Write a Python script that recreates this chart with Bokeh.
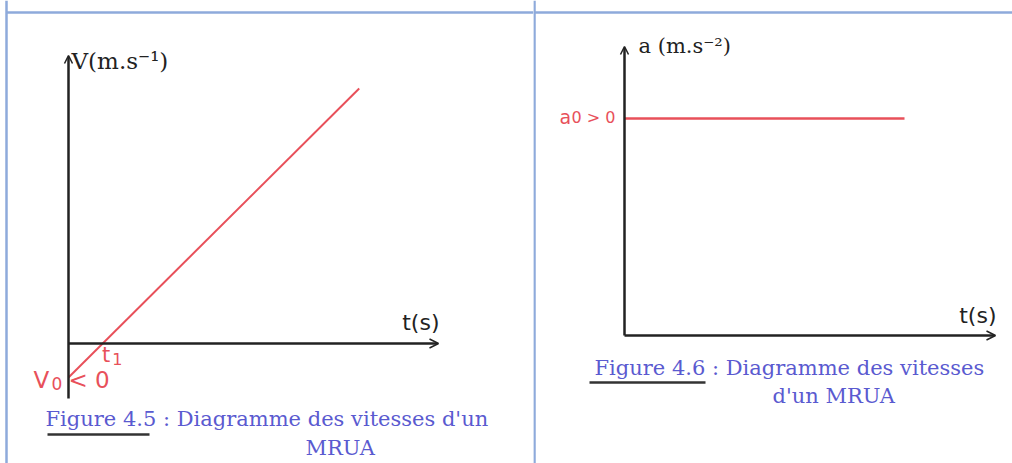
from bokeh.plotting import figure
from bokeh.models import Range1d, Arrow, OpenHead, Label, Span
from bokeh.layouts import row
from bokeh.embed import file_html
from bokeh.resources import INLINE

# ---------------- data ----------------
# Figure 4.5 : V(t) of a MRUA with V0 < 0 (line crosses t axis at t1)
vel_t = [0.0, 8.5]
vel_v = [-1.0, 7.5]
V0 = -1.0
t1 = 1.0
# Figure 4.6 : a(t) constant a0 > 0
acc_t = [0.0, 10.0]
acc_a = [1.0, 1.0]

caption_left = ["Figure 4.5 : Diagramme des vitesses d'un", "MRUA"]
caption_right = ["Figure 4.6 : Diagramme des vitesses", "d'un MRUA"]

RED = "#e8505a"
AXIS = "#222222"
BLUE = "#5a5ad0"
BORDER = "#8eaadb"
SERIF = "DejaVu Serif"
SANS = "DejaVu Sans"

# scale helpers (pixel-of-page -> data units), used only for layout of annotations
L_X0, L_SX, L_Y0, L_SY = 68.0, 34.2, 343.0, 34.0
R_X0, R_SX, R_Y0, R_SY = 624.0, 28.0, 335.0, 217.0


def lx(px): return (px - L_X0) / L_SX
def ly(py): return (L_Y0 - py) / L_SY
def rx(px): return (px - R_X0) / R_SX
def ry(py): return (R_Y0 - py) / R_SY


def base(width, x_range, y_range):
    p = figure(width=width, height=463, x_range=x_range, y_range=y_range,
               toolbar_location=None, output_backend="svg",
               x_axis_location=None, y_axis_location=None, min_border=0)
    p.outline_line_color = None
    p.grid.visible = False
    p.background_fill_color = "white"
    p.border_fill_color = "white"
    return p


def lab(p, x, y, text, size, color, font, align="left", baseline="middle"):
    p.add_layout(Label(x=x, y=y, text=text, text_font_size=size, text_color=color,
                       text_font=font, text_align=align, text_baseline=baseline))


# ---------------- left figure ----------------
pl = base(533, Range1d(lx(0), lx(533)), Range1d(ly(463), ly(0)))
pl.line([lx(6), lx(533)], [ly(12), ly(12)], line_color=BORDER, line_width=2.5)
pl.add_layout(Span(location=lx(6), dimension="height", line_color=BORDER, line_width=2.5))

pl.add_layout(Arrow(end=OpenHead(size=8, line_width=1.5, line_color=AXIS),
                    x_start=0, y_start=ly(398), x_end=0, y_end=ly(55),
                    line_width=2.5, line_color=AXIS))
pl.add_layout(Arrow(end=OpenHead(size=9, line_width=1.5, line_color=AXIS),
                    x_start=0, y_start=0, x_end=lx(438), y_end=0,
                    line_width=2.5, line_color=AXIS))
pl.line(vel_t, vel_v, line_color=RED, line_width=2)

lab(pl, lx(71), ly(60), "V(m.s\u207b\u00b9)", "23px", AXIS, SERIF)
lab(pl, lx(439), ly(322), "t(s)", "22px", AXIS, SANS, align="right")
lab(pl, t1 - 0.02, ly(354), "t", "21px", RED, SANS)
lab(pl, t1 + 0.28, ly(358), "1", "16px", RED, SANS)
lab(pl, lx(33), V0 - 0.08, "V", "23px", RED, SANS)
lab(pl, lx(51), V0 - 0.17, "0", "17px", RED, SANS)
lab(pl, lx(68), V0 - 0.08, "< 0", "23px", RED, SANS)

lab(pl, lx(45), ly(418), caption_left[0], "21px", BLUE, SERIF)
lab(pl, lx(305), ly(447), caption_left[1], "21px", BLUE, SERIF)
pl.line([lx(47), lx(149)], [ly(434), ly(434)], line_color="#333333", line_width=2.5)

# ---------------- right figure ----------------
pr = base(479, Range1d(rx(533), rx(1012)), Range1d(ry(463), ry(0)))
pr.add_layout(Span(location=ry(12), dimension="width", line_color=BORDER, line_width=2.5))
pr.add_layout(Span(location=rx(534), dimension="height", line_color=BORDER, line_width=2.5))

pr.add_layout(Arrow(end=OpenHead(size=8, line_width=1.5, line_color=AXIS),
                    x_start=0, y_start=0, x_end=0, y_end=ry(46),
                    line_width=2.5, line_color=AXIS))
pr.add_layout(Arrow(end=OpenHead(size=9, line_width=1.5, line_color=AXIS),
                    x_start=0, y_start=0, x_end=rx(995), y_end=0,
                    line_width=2.5, line_color=AXIS))
pr.line(acc_t, acc_a, line_color=RED, line_width=2.5)

lab(pr, rx(638), ry(45), "a (m.s\u207b\u00b2)", "21px", AXIS, SERIF)
lab(pr, rx(559), acc_a[0] + 0.005, "a", "19px", RED, SANS)
lab(pr, rx(571), acc_a[0] + 0.005, "0 > 0", "16px", RED, SANS)
lab(pr, rx(996), ry(315), "t(s)", "22px", AXIS, SANS, align="right")

lab(pr, rx(594), ry(367), caption_right[0], "21px", BLUE, SERIF)
lab(pr, rx(772), ry(395), caption_right[1], "21px", BLUE, SERIF)
pr.line([rx(589), rx(705)], [ry(382), ry(382)], line_color="#333333", line_width=2.5)

layout = row(pl, pr, spacing=0)
open("out.html", "w").write(file_html(layout, INLINE))
